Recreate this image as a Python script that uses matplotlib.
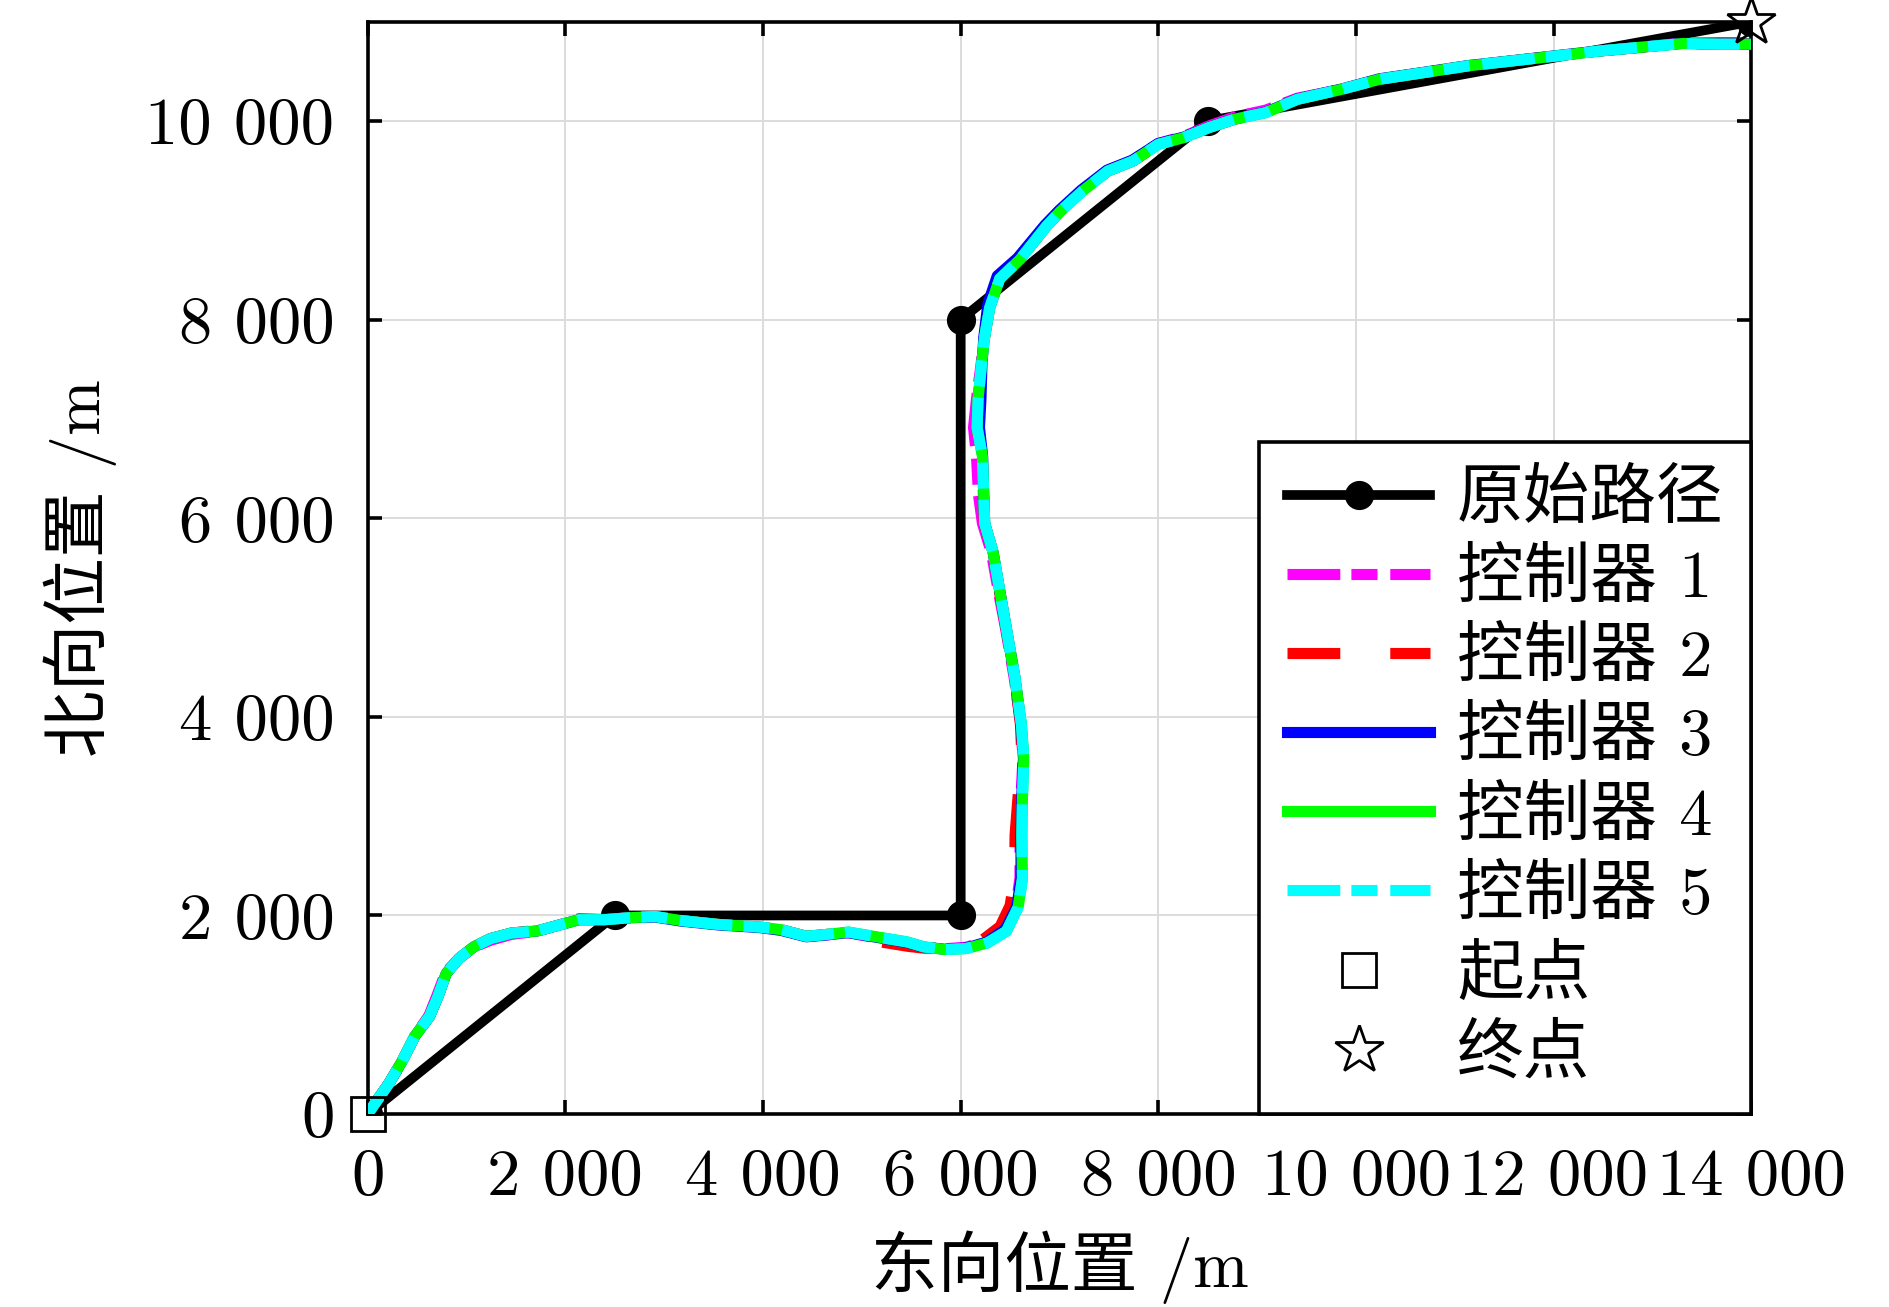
import matplotlib
matplotlib.use("Agg")
import matplotlib.pyplot as plt

FONTS = ['cmr10', 'Noto Sans CJK SC', 'DejaVu Sans']
plt.rcParams['font.family'] = FONTS
plt.rcParams['axes.unicode_minus'] = False

# ---------------- data ----------------
orig_x = [0, 2500, 6000, 6000, 8500, 14000]
orig_y = [0, 2000, 2000, 8000, 10000, 11000]

ctrl4_x = [0, 221, 349, 477, 626, 711, 796, 924, 1073, 1244, 1457, 1712, 1925, 2138, 2394, 2649,
           2905, 3160, 3543, 3969, 4182, 4438, 4651, 4864, 5119, 5460, 5630, 5843, 6056, 6269,
           6463, 6581, 6625, 6619, 6625, 6639, 6615, 6548, 6463, 6395, 6328, 6243, 6233, 6220,
           6166, 6176, 6210, 6243, 6294, 6395, 6598, 6869, 7010, 7233, 7489, 7744, 8000, 8256,
           8511, 8767, 9086, 9406, 9853, 10237, 10684, 11131, 11579, 12026, 12473, 12920, 13304,
           13687, 14000]
ctrl4_y = [0, 317, 533, 783, 983, 1183, 1417, 1567, 1683, 1767, 1823, 1843, 1900, 1957, 1957, 1977,
           1990, 1950, 1910, 1883, 1857, 1790, 1810, 1833, 1790, 1733, 1683, 1657, 1667, 1723,
           1841, 2082, 2372, 2807, 3193, 3580, 3918, 4401, 4884, 5271, 5657, 5947, 6237, 6623,
           6913, 7203, 7541, 7831, 8121, 8411, 8604, 8942, 9092, 9294, 9496, 9597, 9765, 9832,
           9933, 10017, 10084, 10218, 10319, 10420, 10487, 10555, 10605, 10655, 10706, 10746, 10780,
           10773, 10773]

ctrl5_x = ctrl4_x
ctrl5_y = ctrl4_y

ctrl1_x = [0, 221, 349, 477, 620, 700, 790, 924, 1073, 1244, 1457, 1712, 1925, 2138, 2394, 2649,
           2905, 3160, 3543, 3969, 4182, 4438, 4651, 4864, 5119, 5460, 5630, 5843, 6056, 6250,
           6440, 6560, 6600, 6600, 6610, 6630, 6610, 6540, 6455, 6380, 6310, 6220, 6180, 6160,
           6130, 6160, 6205, 6240, 6290, 6390, 6590, 6860, 7005, 7230, 7485, 7740, 8000, 8256,
           8511, 8767, 9086, 9406, 9853, 10237, 10684, 11131, 11579, 12026, 12473, 12920, 13304,
           13687, 14000]
ctrl1_y = [0, 317, 533, 783, 990, 1190, 1425, 1567, 1680, 1750, 1810, 1840, 1900, 1965, 1960, 1977,
           1990, 1950, 1910, 1883, 1857, 1790, 1805, 1825, 1780, 1720, 1680, 1665, 1680, 1740,
           1870, 2100, 2380, 2807, 3193, 3580, 3918, 4401, 4884, 5271, 5657, 5947, 6237, 6623,
           6913, 7203, 7541, 7831, 8121, 8411, 8610, 8950, 9100, 9300, 9500, 9605, 9775, 9845,
           9950, 10040, 10110, 10230, 10319, 10420, 10487, 10555, 10605, 10655, 10706, 10746, 10785,
           10790, 10790]

ctrl2_x = [0, 221, 349, 477, 626, 711, 796, 924, 1073, 1244, 1457, 1712, 1925, 2138, 2394, 2649,
           2905, 3160, 3543, 3969, 4182, 4438, 4651, 4864, 5119, 5460, 5630, 5843, 6056, 6230,
           6400, 6500, 6545, 6550, 6580, 6620, 6605, 6545, 6460, 6390, 6320, 6240, 6230, 6215,
           6165, 6176, 6210, 6243, 6294, 6395, 6598, 6869, 7010, 7233, 7489, 7744, 8000, 8256,
           8511, 8767, 9086, 9406, 9853, 10237, 10684, 11131, 11579, 12026, 12473, 12920, 13304,
           13687, 14000]
ctrl2_y = [0, 317, 533, 783, 983, 1183, 1417, 1567, 1683, 1767, 1823, 1850, 1910, 1965, 1957, 1977,
           1990, 1950, 1910, 1883, 1857, 1790, 1810, 1825, 1745, 1690, 1670, 1680, 1700, 1760,
           1890, 2100, 2372, 2807, 3193, 3580, 3918, 4401, 4884, 5271, 5657, 5947, 6237, 6623,
           6913, 7203, 7541, 7831, 8121, 8411, 8604, 8942, 9092, 9294, 9496, 9597, 9765, 9832,
           9933, 10017, 10084, 10218, 10319, 10420, 10487, 10555, 10605, 10655, 10706, 10746, 10780,
           10773, 10773]

ctrl3_x = [0, 221, 349, 477, 626, 711, 796, 924, 1073, 1244, 1457, 1712, 1925, 2138, 2394, 2649,
           2905, 3160, 3543, 3969, 4182, 4438, 4651, 4864, 5119, 5460, 5630, 5843, 6056, 6262,
           6450, 6568, 6610, 6610, 6618, 6635, 6612, 6548, 6463, 6395, 6328, 6243, 6233, 6222,
           6190, 6205, 6215, 6235, 6275, 6370, 6575, 6850, 6995, 7220, 7480, 7735, 7995, 8256,
           8511, 8767, 9086, 9406, 9853, 10237, 10684, 11131, 11579, 12026, 12473, 12920, 13304,
           13687, 14000]
ctrl3_y = [0, 317, 533, 783, 983, 1183, 1417, 1567, 1683, 1767, 1823, 1843, 1900, 1957, 1957, 1977,
           1985, 1945, 1905, 1878, 1850, 1785, 1805, 1828, 1785, 1728, 1680, 1660, 1672, 1732,
           1860, 2088, 2372, 2807, 3193, 3580, 3918, 4401, 4884, 5271, 5657, 5947, 6237, 6623,
           6913, 7203, 7541, 7831, 8160, 8440, 8620, 8950, 9100, 9305, 9505, 9605, 9772, 9838,
           9936, 10020, 10088, 10222, 10322, 10425, 10490, 10558, 10607, 10658, 10708, 10748, 10782,
           10775, 10775]

start_pt = (0, 0)
end_pt = (14000, 11000)

xticks = [0, 2000, 4000, 6000, 8000, 10000, 12000, 14000]
xticklabels = ['0', '2 000', '4 000', '6 000', '8 000', '10 000', '12 000', '14 000']
yticks = [0, 2000, 4000, 6000, 8000, 10000]
yticklabels = ['0', '2 000', '4 000', '6 000', '8 000', '10 000']

labels = ['原始路径', '控制器 1', '控制器 2', '控制器 3', '控制器 4', '控制器 5', '起点', '终点']

# ---------------- figure ----------------
FS = 48
fig = plt.figure(figsize=(18.9, 13.07), dpi=100)
ax = fig.add_axes([0.1945, 0.1476, 0.7322, 0.8358])

LW = 8
DASHDOT = (4.75, 1.0, 2.35, 1.15)
h0, = ax.plot(orig_x, orig_y, color='black', lw=7, marker='o', ms=20, zorder=2,
              solid_joinstyle='miter')
h1, = ax.plot(ctrl1_x, ctrl1_y, color='#ff00ff', lw=LW, dashes=DASHDOT, zorder=3)
h2, = ax.plot(ctrl2_x, ctrl2_y, color='#ff0000', lw=LW, dashes=(4.75, 4.5), zorder=3)
h3, = ax.plot(ctrl3_x, ctrl3_y, color='#0000ff', lw=LW, zorder=3, solid_joinstyle='round')
h4, = ax.plot(ctrl4_x, ctrl4_y, color='#00ff00', lw=LW, zorder=4, solid_joinstyle='round')
h5, = ax.plot(ctrl5_x, ctrl5_y, color='#00ffff', lw=LW, dashes=DASHDOT, zorder=5)
h6, = ax.plot([start_pt[0]], [start_pt[1]], ls='none', marker='s', ms=24, mfc='none',
              mec='black', mew=2.0, zorder=6, clip_on=False)
h7, = ax.plot([end_pt[0]], [end_pt[1]], ls='none', marker='*', ms=36, mfc='none',
              mec='black', mew=2.0, zorder=6, clip_on=False)

ax.set_xlim(0, 14000)
ax.set_ylim(0, 11000)
ax.set_xticks(xticks, xticklabels)
ax.set_yticks(yticks, yticklabels)
ax.grid(True, color='#dcdcdc', lw=1.4, zorder=0)
ax.set_axisbelow(True)
for s in ax.spines.values():
    s.set_linewidth(2.6)
ax.tick_params(direction='in', length=10, width=2.6, top=True, right=True, labelsize=FS)
ax.tick_params(axis='x', pad=25)
ax.tick_params(axis='y', pad=24)

ax.set_xlabel('东向位置 /m', fontsize=FS, labelpad=16)
ax.set_ylabel('北向位置 /m', fontsize=FS, labelpad=20)

leg = ax.legend([h0, h1, h2, h3, h4, h5, h6, h7], labels, loc='lower right',
                bbox_to_anchor=(1, 0), borderaxespad=0, fontsize=FS, handlelength=2.15,
                handletextpad=0.4, labelspacing=0.27, borderpad=0.42, fancybox=False,
                framealpha=1, edgecolor='black', numpoints=1)
leg.get_frame().set_linewidth(2.6)
leg.set_zorder(10)

fig.savefig('out.png', dpi=100)
